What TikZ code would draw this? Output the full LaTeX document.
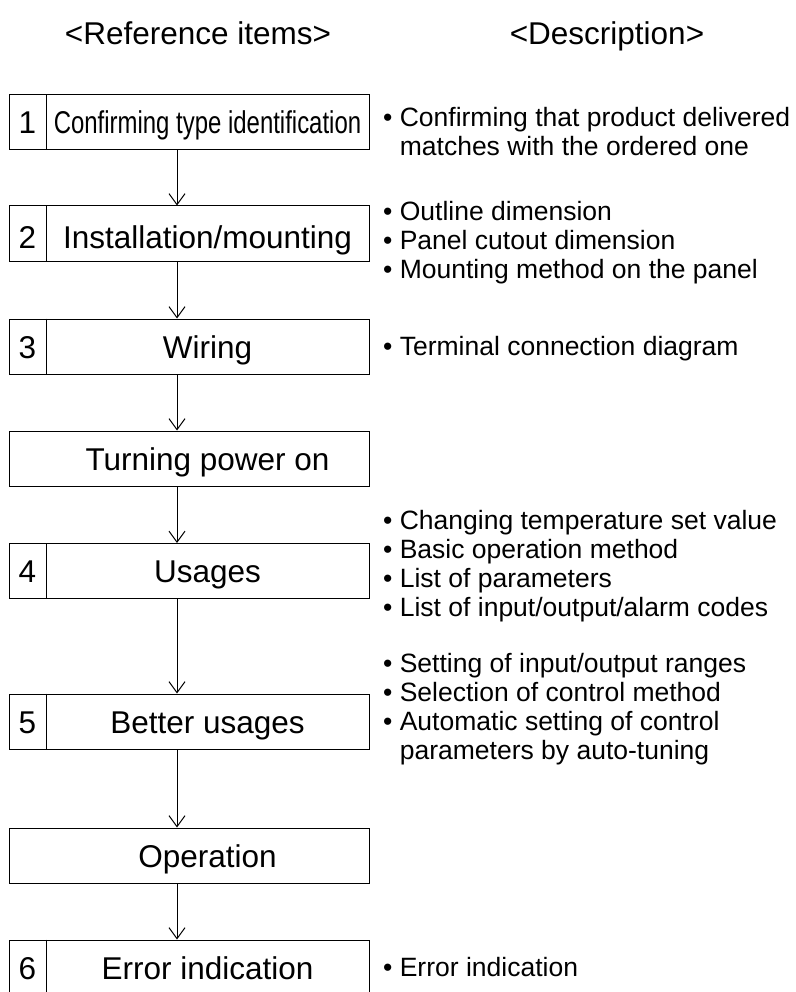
\documentclass[tikz,border=0pt]{standalone}
\usepackage{fontspec}
\setmainfont{Liberation Sans}
\newfontfamily\narrowfont[FakeStretch=0.76]{Liberation Sans}
\usetikzlibrary{arrows.meta}
\begin{document}
\begin{tikzpicture}[x=1pt,y=-1pt,
  boxstyle/.style={draw, line width=1pt, minimum width=360pt, minimum height=55pt, inner sep=0pt},
  itemtext/.style={font=\fontsize{31.5}{36}\selectfont, inner sep=0pt, anchor=base},
  desc/.style={font=\fontsize{26.5}{29}\selectfont, inner sep=0pt, anchor=base west},
  head/.style={font=\fontsize{31.5}{36}\selectfont, inner sep=0pt, anchor=base},
  arr/.style={line width=1pt, -{Straight Barb[length=11pt,width=16pt,line width=1pt]}},
  divline/.style={line width=1pt}]
\useasboundingbox (0,0) rectangle (795,992);
\coordinate (dv) at (46,0);
\coordinate (ax) at (177,0);
% headers
\node[head] (h1) at (198,45) {<Reference items>};
\node[head] (h2) at (607,45) {<Description>};
% boxes
\node[boxstyle] (b1) at (189,122.5) {};
\node[boxstyle] (b2) at (189,233.5) {};
\node[boxstyle] (b3) at (189,346.5) {};
\node[boxstyle] (bp) at (189,458.5) {};
\node[boxstyle] (b4) at (189,571) {};
\node[boxstyle] (b5) at (189,721.5) {};
\node[boxstyle] (bo) at (189,855.5) {};
\node[boxstyle] (b6) at (189,967.5) {};
% dividers
\foreach \b in {b1,b2,b3,b4,b5,b6}
  \draw[divline] (\b.north -| dv) -- (\b.south -| dv);
% numbers
\node[itemtext] (n1) at (27.5,134) {1};
\node[itemtext] (n2) at (27.5,248) {2};
\node[itemtext] (n3) at (27.5,358) {3};
\node[itemtext] (n4) at (27.5,582.5) {4};
\node[itemtext] (n5) at (27.5,733) {5};
\node[itemtext] (n6) at (27.5,979) {6};
% labels
\node[itemtext] (t1) at (207.5,134) {\narrowfont Confirming type identification};
\node[itemtext] (t2) at (207.5,248) {Installation/mounting};
\node[itemtext] (t3) at (207.5,358) {Wiring};
\node[itemtext] (tp) at (207.5,470) {Turning power on};
\node[itemtext] (t4) at (207.5,582.5) {Usages};
\node[itemtext] (t5) at (207.5,733) {Better usages};
\node[itemtext] (to) at (207.5,867) {Operation};
\node[itemtext] (t6) at (207.5,979) {Error indication};
% arrows
\draw[arr] (b1.south -| ax) -- (b2.north -| ax);
\draw[arr] (b2.south -| ax) -- (b3.north -| ax);
\draw[arr] (b3.south -| ax) -- (bp.north -| ax);
\draw[arr] (bp.south -| ax) -- (b4.north -| ax);
\draw[arr] (b4.south -| ax) -- (b5.north -| ax);
\draw[arr] (b5.south -| ax) -- (bo.north -| ax);
\draw[arr] (bo.south -| ax) -- (b6.north -| ax);
% descriptions
\node[desc] (d1) at (383,127) {\begin{tabular}[t]{@{}l@{}}• Confirming that product delivered\\ \hphantom{•}\ matches with the ordered one\end{tabular}};
\node[desc] (d2) at (383,221) {\begin{tabular}[t]{@{}l@{}}• Outline dimension\\ • Panel cutout dimension\\ • Mounting method on the panel\end{tabular}};
\node[desc] (d3) at (383,355) {• Terminal connection diagram};
\node[desc] (d4) at (383,529) {\begin{tabular}[t]{@{}l@{}}• Changing temperature set value\\ • Basic operation method\\ • List of parameters\\ • List of input/output/alarm codes\end{tabular}};
\node[desc] (d5) at (383,672) {\begin{tabular}[t]{@{}l@{}}• Setting of input/output ranges\\ • Selection of control method\\ • Automatic setting of control\\ \hphantom{•}\ parameters by auto-tuning\end{tabular}};
\node[desc] (d6) at (383,976) {• Error indication};
\end{tikzpicture}
\end{document}
